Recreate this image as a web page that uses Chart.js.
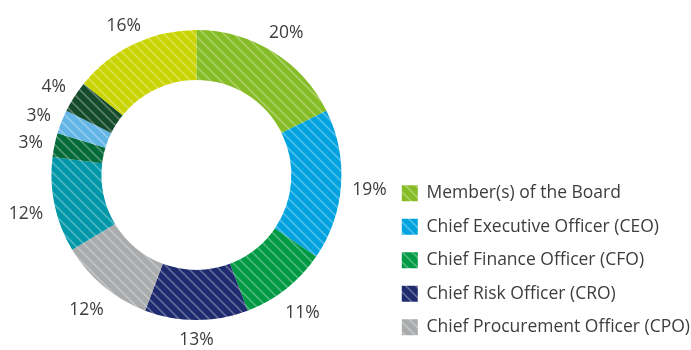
<!DOCTYPE html>
<html lang="en">
<head>
    <meta charset="UTF-8">
    <title>Board and C-suite ownership</title>
    <script src="https://cdn.jsdelivr.net/npm/chart.js"></script>
    <style>
        body {
            margin: 0;
            background: #fff;
        }
        #wrap {
            width: 691px;
            height: 350px;
        }
    </style>
</head>
<body>
    <div id="wrap"><canvas id="ownerChart"></canvas></div>

    <script>
        // segments clockwise from 12 o'clock; only the first five appear in the legend
        const roles = [
            'Member(s) of the Board',
            'Chief Executive Officer (CEO)',
            'Chief Finance Officer (CFO)',
            'Chief Risk Officer (CRO)',
            'Chief Procurement Officer (CPO)',
            '', '', '', '', ''
        ];
        const shares = [20, 19, 11, 13, 12, 12, 3, 3, 4, 16];
        const baseColors = [
            '#86bc25', '#00a3e0', '#009a44', '#1e2b6e', '#a9abad',
            '#0097a9', '#046a38', '#62b5e5', '#154b2a', '#c9d400'
        ];

        const textColor = '#3d3d3d';
        const fontFamily = '"Open Sans", sans-serif';

        // solid colour with thin white "\" stripes
        function hatch(color) {
            const size = 10;
            const c = document.createElement('canvas');
            c.width = size;
            c.height = size;
            const g = c.getContext('2d');
            g.fillStyle = color;
            g.fillRect(0, 0, size, size);
            g.strokeStyle = 'rgba(255,255,255,0.3)';
            g.lineWidth = 1.6;
            g.beginPath();
            g.moveTo(-2, -2); g.lineTo(size + 2, size + 2);
            g.moveTo(-2, size - 2); g.lineTo(2, size + 2);
            g.moveTo(size - 2, -2); g.lineTo(size + 2, 2);
            g.stroke();
            return g.createPattern(c, 'repeat');
        }

        // percentage text just outside the ring
        const outerLabels = {
            id: 'outerLabels',
            afterDatasetsDraw(chart) {
                const ctx = chart.ctx;
                const meta = chart.getDatasetMeta(0);
                ctx.save();
                ctx.font = '17.5px ' + fontFamily;
                ctx.fillStyle = textColor;
                ctx.textAlign = 'center';
                ctx.textBaseline = 'middle';
                meta.data.forEach((arc, i) => {
                    const p = arc.getProps(['x', 'y', 'startAngle', 'endAngle', 'outerRadius'], true);
                    const mid = (p.startAngle + p.endAngle) / 2;
                    const text = shares[i] + '%';
                    const w = ctx.measureText(text).width;
                    const r = p.outerRadius + 11 +
                        Math.abs(Math.cos(mid)) * w / 2 + Math.abs(Math.sin(mid)) * 6;
                    ctx.fillText(text, p.x + Math.cos(mid) * r, p.y + Math.sin(mid) * r + 3);
                });
                ctx.restore();
            }
        };

        new Chart(document.getElementById('ownerChart'), {
            type: 'doughnut',
            data: {
                labels: roles,
                datasets: [{
                    data: shares,
                    backgroundColor: baseColors.map(hatch),
                    borderWidth: 0
                }]
            },
            options: {
                responsive: true,
                maintainAspectRatio: false,
                animation: false,
                radius: 145,
                cutout: '65.5%',
                layout: {
                    padding: { top: -4, bottom: -2, left: 7, right: -9 }
                },
                plugins: {
                    tooltip: { enabled: false },
                    legend: {
                        position: 'right',
                        align: 'end',
                        labels: {
                            boxWidth: 16,
                            boxHeight: 16,
                            padding: 16,
                            color: textColor,
                            font: { family: fontFamily, size: 17.5 },
                            filter: item => item.text !== ''
                        }
                    }
                }
            },
            plugins: [outerLabels]
        });
    </script>
</body>
</html>
